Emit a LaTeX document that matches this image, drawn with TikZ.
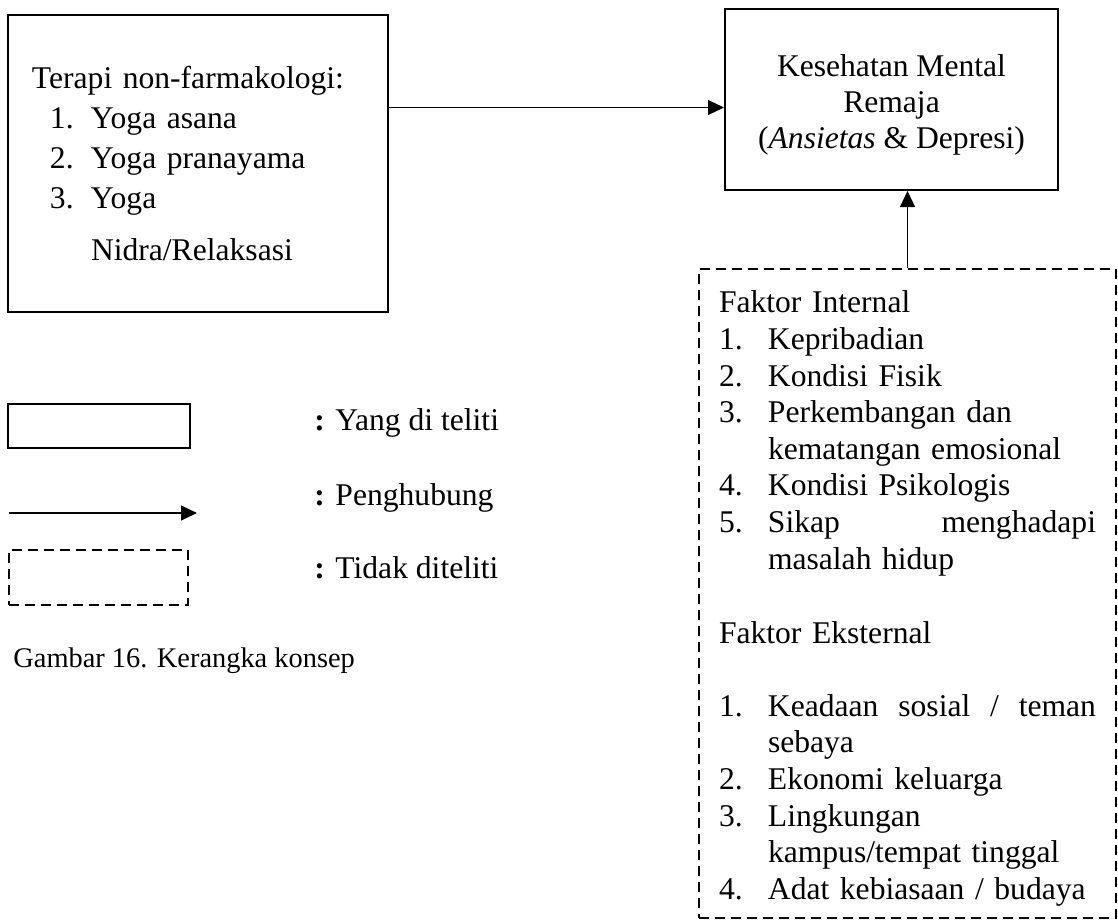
\documentclass[tikz,border=0pt]{standalone}
\usepackage{fontspec}
\setmainfont{Liberation Serif}
\usetikzlibrary{arrows.meta}

\newcommand{\listnum}[2]{\makebox[#1][l]{#2}}

\begin{document}
\begin{tikzpicture}
                [
                    x=0.5pt, y=-0.5pt,
                    block/.style = {rectangle, draw, line width=1pt, inner xsep=12pt, inner ysep=0pt, font=\fontsize{15.8}{20}\selectfont},
                    notexamined/.style = {rectangle, draw, line width=1pt, dash pattern=on 5pt off 3pt, inner xsep=10pt, inner ysep=0pt, font=\fontsize{15.8}{18.3}\selectfont},
                    legtext/.style = {anchor=base west, inner sep=0pt, font=\fontsize{15.8}{18}\selectfont},
                    arrow/.style = {line width=0.6pt, -{Triangle[length=8pt, width=7.5pt]}}
                ]
                \useasboundingbox (0,0) rectangle (1118,920);

                \node (therapy) [block, text width=166pt, align=left, minimum height=148.5pt] at (198,163.5)
                    {Terapi non-farmakologi:\\
                     \hspace*{9pt}\listnum{20.5pt}{1.}Yoga asana\\
                     \hspace*{9pt}\listnum{20.5pt}{2.}Yoga pranayama\\
                     \hspace*{9pt}\listnum{20.5pt}{3.}Yoga\\[6pt]
                     \hspace*{29.5pt}Nidra/Relaksasi};
                \node (mental) [block, align=center, minimum width=166.5pt, minimum height=90.5pt, font=\fontsize{15.8}{18}\selectfont] at (891.5,99.5)
                    {\rule{0pt}{16pt}Kesehatan Mental\\Remaja\\(\textit{Ansietas} \& Depresi)};
                \node (factors) [notexamined, text width=188.5pt, align=left, minimum height=324.5pt] at (907.5,593.5)
                    {\rule{0pt}{16pt}Faktor Internal\\
                     \listnum{24.5pt}{1.}Kepribadian\\
                     \listnum{24.5pt}{2.}Kondisi Fisik\\
                     \listnum{24.5pt}{3.}Perkembangan dan\\
                     \hspace*{24.5pt}kematangan emosional\\
                     \listnum{24.5pt}{4.}Kondisi Psikologis\\
                     \listnum{24.5pt}{5.}Sikap\hfill menghadapi\\
                     \hspace*{24.5pt}masalah hidup\\[19pt]
                     Faktor Eksternal\\[18pt]
                     \listnum{24.5pt}{1.}Keadaan\hfill sosial\hfill /\hfill teman\\
                     \hspace*{24.5pt}sebaya\\
                     \listnum{24.5pt}{2.}Ekonomi keluarga\\
                     \listnum{24.5pt}{3.}Lingkungan\\
                     \hspace*{24.5pt}kampus/tempat tinggal\\
                     \listnum{24.5pt}{4.}Adat kebiasaan / budaya};

                \coordinate (link) at ([yshift=-4pt]mental.west);
                \draw[arrow] (therapy.east |- link) -- (link);
                \draw[arrow] (factors.north) -- (factors.north |- mental.south);

                % Keterangan
                \node (legsolid) [draw, line width=1pt, minimum width=91pt, minimum height=22pt, inner sep=0pt] at (99,426) {};
                \coordinate (legstart) at (9,513);
                \coordinate (legtip) at (197,513);
                \draw[arrow] (legstart) -- (legtip);
                \node (legdash) [draw, line width=1pt, dash pattern=on 5pt off 3pt, minimum width=89.5pt, minimum height=27.5pt, inner sep=0pt] at (98.5,577.5) {};

                \node (lblsolid) [legtext] at (314,430) {\textbf{:} Yang di teliti};
                \node (lblarrow) [legtext] at (314,505) {\textbf{:} Penghubung};
                \node (lbldash) [legtext] at (314,578) {\textbf{:} Tidak diteliti};

                \node (caption) [anchor=base west, inner sep=0pt, font=\fontsize{14.2}{16}\selectfont] at (13,667) {Gambar 16. Kerangka konsep};

            \end{tikzpicture}
\end{document}
